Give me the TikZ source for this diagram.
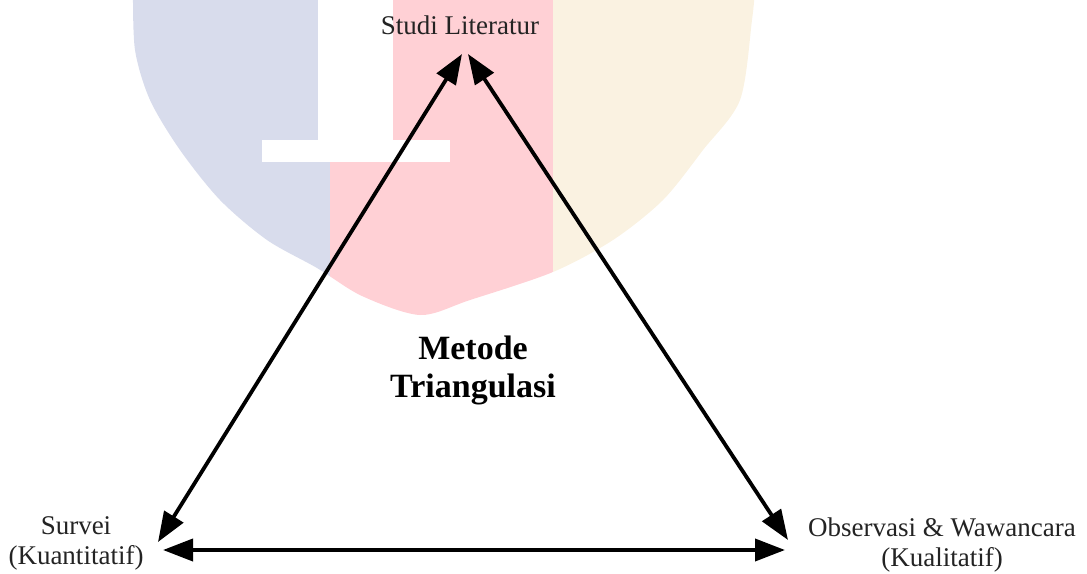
\documentclass[tikz,border=0pt]{standalone}
\usepackage{fontspec}
\setmainfont{Liberation Serif}
\usetikzlibrary{arrows.meta}
\definecolor{wmblue}{RGB}{216,220,236}
\definecolor{wmred}{RGB}{255,208,213}
\definecolor{wmyellow}{RGB}{250,242,225}
\definecolor{txt}{RGB}{35,35,35}
\tikzset{
  lbl/.style={text=txt, font=\fontsize{27}{30}\selectfont, align=center, inner sep=0pt},
  title/.style={text=black, font=\fontsize{34}{38}\selectfont\bfseries, align=center, inner sep=0pt},
  conn/.style={line width=3.8pt, {Triangle[length=30pt,width=22pt]}-{Triangle[length=30pt,width=22pt]}}
}
\begin{document}
\begin{tikzpicture}[x=1pt,y=-1pt]
\useasboundingbox (0,0) rectangle (1087,573);
% faded watermark
\begin{scope}
\clip plot[smooth] coordinates {(133,-10)(135,50)(150,100)(180,150)(220,200)(267,240)(317,268)(362,296)(420,315)(470,300)(553,272)(613,240)(663,200)(703,150)(740,100)(752,20)(755,-10)} -- cycle;
\fill[wmblue] (100,-20) rectangle (330,340);
\fill[wmred] (330,-20) rectangle (553,340);
\fill[wmyellow] (553,-20) rectangle (800,340);
\fill[white] (318,-20) rectangle (393,140);
\fill[white] (262,140) rectangle (450,162);
\end{scope}
% labels
\node[lbl] (lit) at (460,25) {Studi Literatur};
\node[lbl] (sur) at (76,543) {Survei\\(Kuantitatif)};
\node[lbl] (obs) at (942,545) {Observasi \& Wawancara\\(Kualitatif)};
\node[title] (met) at (473,370) {Metode\\Triangulasi};
% arrow end points
\coordinate (litL) at (462,54);
\coordinate (litR) at (468,54);
\coordinate (surT) at (158,542);
\coordinate (surR) at (163,550);
\coordinate (obsT) at (788,540);
\coordinate (obsL) at (785,550);
\draw[conn] (surT) -- (litL);
\draw[conn] (litR) -- (obsT);
\draw[conn] (surR) -- (obsL);
\end{tikzpicture}
\end{document}
